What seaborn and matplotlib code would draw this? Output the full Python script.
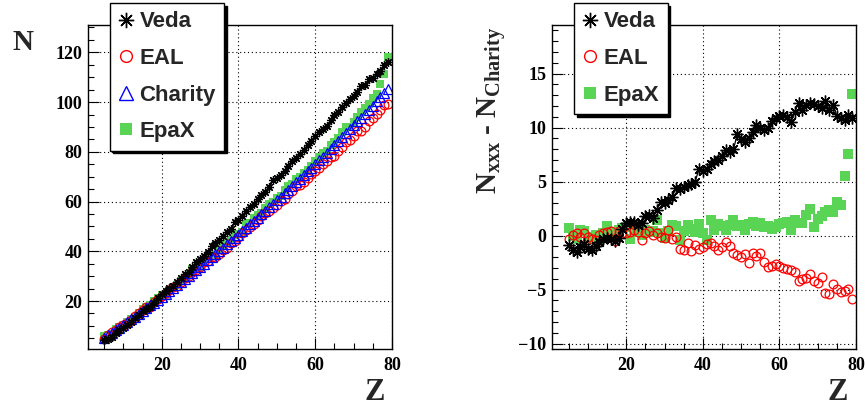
import numpy as np
import matplotlib
matplotlib.use("Agg")
import matplotlib.pyplot as plt
import seaborn as sns
from matplotlib.lines import Line2D
from matplotlib.ticker import MultipleLocator

# nuclear charge of the fragments
z = [5, 6, 7, 8, 9, 10, 11, 12, 13, 14,
     15, 16, 17, 18, 19, 20, 21, 22, 23, 24,
     25, 26, 27, 28, 29, 30, 31, 32, 33, 34,
     35, 36, 37, 38, 39, 40, 41, 42, 43, 44,
     45, 46, 47, 48, 49, 50, 51, 52, 53, 54,
     55, 56, 57, 58, 59, 60, 61, 62, 63, 64,
     65, 66, 67, 68, 69, 70, 71, 72, 73, 74,
     75, 76, 77, 78, 79]

# mean neutron number from Charity
charity_n = [5.1, 6.2, 7.2, 8.3, 9.3, 10.4, 11.5, 12.6, 13.7, 14.8,
             16.0, 17.1, 18.2, 19.4, 20.5, 21.7, 22.9, 24.0, 25.2, 26.4,
             27.6, 28.8, 30.1, 31.3, 32.5, 33.8, 35.0, 36.3, 37.6, 38.9,
             40.1, 41.4, 42.8, 44.1, 45.4, 46.7, 48.1, 49.4, 50.8, 52.1,
             53.5, 54.9, 56.3, 57.7, 59.1, 60.5, 61.9, 63.4, 64.8, 66.2,
             67.7, 69.2, 70.6, 72.1, 73.6, 75.1, 76.6, 78.1, 79.7, 81.2,
             82.7, 84.3, 85.9, 87.4, 89.0, 90.6, 92.2, 93.8, 95.4, 97.0,
             98.6, 100.3, 101.9, 103.6, 105.2]

# N_xxx - N_Charity
veda_diff = [-0.9, -1.3, -1.5, -1.1, -0.8, -1.2, -1.3, -1.0, -0.6, -0.3,
             -0.2, -0.3, -0.5, -0.2, 0.6, 1.2, 1.3, 1.3, 1.0, 1.2,
             1.8, 1.9, 1.6, 2.4, 3.1, 3.0, 3.3, 3.6, 4.4, 4.3,
             4.5, 4.7, 4.8, 5.0, 6.2, 6.0, 6.2, 6.6, 6.9, 7.0,
             7.4, 7.9, 7.7, 8.0, 9.4, 8.9, 8.7, 9.0, 9.6, 10.2,
             10.0, 9.8, 10.0, 10.6, 10.9, 11.1, 11.2, 11.0, 10.5, 11.4,
             12.3, 11.6, 12.1, 12.3, 12.2, 12.0, 11.8, 12.5, 11.6, 12.1,
             11.1, 10.9, 10.7, 11.2, 10.9]

eal_diff = [-0.3, 0.1, 0.2, -0.1, 0.2, -0.1, -0.3, -0.4, 0.1, 0.2,
            0.3, 0.4, -0.5, 0.4, 0.2, 0.2, 0.3, 0.5, 0.3, -0.4,
            0.2, 0.4, 0.1, 0.2, -0.1, -0.2, 0.5, -0.3, -0.1, -1.2,
            -1.3, -0.7, -1.4, -0.9, -1.2, -1.1, -0.8, -0.7, -1.0, -1.3,
            -1.1, -0.6, -1.0, -1.6, -1.8, -2.0, -1.7, -2.5, -1.6, -1.9,
            -1.6, -2.4, -2.9, -2.8, -2.6, -2.8, -3.0, -3.1, -3.2, -3.4,
            -4.2, -4.0, -3.9, -3.6, -4.2, -4.4, -3.8, -5.3, -5.4, -4.5,
            -4.9, -5.2, -5.1, -4.9, -5.9]

epax_diff = [0.7, 0.0, -0.3, 0.5, 0.4, -0.2, -0.1, 0.1, -0.3, 0.2,
             0.9, 0.3, 0.1, 0.5, 0.7, 0.8, -0.3, 0.4, 0.5, 0.1,
             0.5, 0.3, 0.4, 1.4, 0.2, -0.2, 0.4, 1.0, 0.9, -0.4,
             0.4, 1.0, 0.6, 0.3, 1.1, 0.2, -0.4, 1.4, 0.5, 1.1,
             0.9, 0.5, 1.0, 1.4, 0.9, 1.0, 0.5, 1.1, 1.3, 0.9,
             1.2, 0.8, 0.9, 0.6, 0.8, 1.1, 1.2, 1.3, 0.5, 1.4,
             1.2, 1.2, 1.9, 2.5, 0.8, 1.5, 1.8, 2.2, 2.4, 2.2,
             3.1, 2.8, 5.5, 7.6, 13.1]

charity = np.array(charity_n)
veda_n = charity + np.array(veda_diff)
eal_n = charity + np.array(eal_diff)
epax_n = charity + np.array(epax_diff)

GREEN = "#59d454"
STAR = (8, 2, 0)

sns.set_theme(style="white")
plt.rcParams.update({
    "font.family": ["Liberation Serif", "DejaVu Serif"],
    "font.weight": "bold",
    "mathtext.fontset": "custom",
    "mathtext.it": "Liberation Serif:bold",
    "mathtext.rm": "Liberation Serif:bold",
    "mathtext.bf": "Liberation Serif:bold",
    "axes.edgecolor": "black",
    "axes.linewidth": 1.0,
})

fig = plt.figure(figsize=(8.65, 4.09), dpi=100)
ax1 = fig.add_axes([88 / 865, 1 - 349 / 409, 304 / 865, 324 / 409])
ax2 = fig.add_axes([552 / 865, 1 - 349 / 409, 304 / 865, 324 / 409])


def points(ax, y, **kw):
    sns.lineplot(x=z, y=y, ax=ax, estimator=None, sort=False, linestyle="none", **kw)


# left: N vs Z
points(ax1, epax_n, marker="s", color=GREEN, markersize=6, markeredgewidth=0)
points(ax1, eal_n, marker="o", markerfacecolor="none", markeredgecolor="red",
       markersize=6.3, markeredgewidth=0.9)
points(ax1, charity_n, marker="^", markerfacecolor="none", markeredgecolor="blue",
       markersize=7, markeredgewidth=0.9)
sns.lineplot(x=z, y=veda_n, ax=ax1, estimator=None, sort=False, color="black",
             linewidth=1.0, marker=STAR, markersize=6.5, markeredgewidth=0.9,
             markeredgecolor="black")

# right: differences
points(ax2, epax_diff, marker="s", color=GREEN, markersize=6.5, markeredgewidth=0)
points(ax2, eal_diff, marker="o", markerfacecolor="none", markeredgecolor="red",
       markersize=6.3, markeredgewidth=0.9)
sns.lineplot(x=z, y=veda_diff, ax=ax2, estimator=None, sort=False, color="black",
             linewidth=0.9, marker=STAR, markersize=8.5, markeredgewidth=1.0,
             markeredgecolor="black")

ax1.set_xlim(0.8, 80)
ax1.set_ylim(0.7, 131)
ax1.yaxis.set_major_locator(MultipleLocator(20))
ax1.yaxis.set_minor_locator(MultipleLocator(5))
ax2.set_xlim(0.6, 80)
ax2.set_ylim(-10.5, 19.5)
ax2.yaxis.set_major_locator(MultipleLocator(5))
ax2.yaxis.set_minor_locator(MultipleLocator(1))

for ax in (ax1, ax2):
    ax.set_xticks([20, 40, 60, 80])
    ax.xaxis.set_minor_locator(MultipleLocator(5))
    ax.set_axisbelow(True)
    ax.grid(True, which="major", color="black", linestyle=(0, (1, 2.5)), linewidth=0.8)
    ax.tick_params(which="both", direction="in", top=False, right=False,
                   left=True, bottom=True, colors="black", labelsize=13)
    ax.tick_params(which="major", length=8, width=0.8)
    ax.tick_params(which="minor", length=4, width=0.8)
    ax.tick_params(axis="x", pad=6)
    ax.tick_params(axis="y", pad=4)
    ax.set_xlabel("")
    ax.set_ylabel("")
    for s in ax.spines.values():
        s.set_visible(True)
        s.set_color("black")

fig.text(375 / 865, 1 - 393 / 409, "Z", ha="center", va="center", fontsize=22, fontweight="bold")
fig.text(838 / 865, 1 - 393 / 409, "Z", ha="center", va="center", fontsize=22, fontweight="bold")
fig.text(23 / 865, 1 - 42 / 409, "N", ha="center", va="center", fontsize=21, fontweight="bold")
fig.text(491 / 865, 1 - 110 / 409, r"$N_{xxx}$ - $N_{Charity}$", rotation=90,
         ha="center", va="center", fontsize=21, fontweight="bold")


def handle(marker, **kw):
    return Line2D([], [], linestyle="none", marker=marker, **kw)


h_veda = handle(STAR, color="black", markersize=11, markeredgewidth=1.0)
h_eal = handle("o", markerfacecolor="none", markeredgecolor="red", markersize=8.5, markeredgewidth=1.0)
h_char = handle("^", markerfacecolor="none", markeredgecolor="blue", markersize=9.5, markeredgewidth=1.0)
h_epax = handle("s", color=GREEN, markersize=8.5, markeredgewidth=0)

leg_kw = dict(loc="upper left", bbox_transform=fig.transFigure, borderaxespad=0,
              prop={"family": "Liberation Sans", "weight": "bold", "size": 16},
              frameon=True, fancybox=False, edgecolor="black", framealpha=1,
              shadow={"color": "black", "alpha": 1}, borderpad=0.38,
              handlelength=0.68, handletextpad=0.27, labelspacing=0.7)

leg1 = ax1.legend([h_veda, h_eal, h_char, h_epax], ["Veda", "EAL", "Charity", "EpaX"],
                  bbox_to_anchor=(110 / 865, 1 - 3 / 409), **leg_kw)
leg2 = ax2.legend([h_veda, h_eal, h_epax], ["Veda", "EAL", "EpaX"],
                  bbox_to_anchor=(574 / 865, 1 - 3 / 409), **leg_kw)
for leg in (leg1, leg2):
    leg.get_frame().set_linewidth(1.0)

fig.savefig("out.png", dpi=100)
